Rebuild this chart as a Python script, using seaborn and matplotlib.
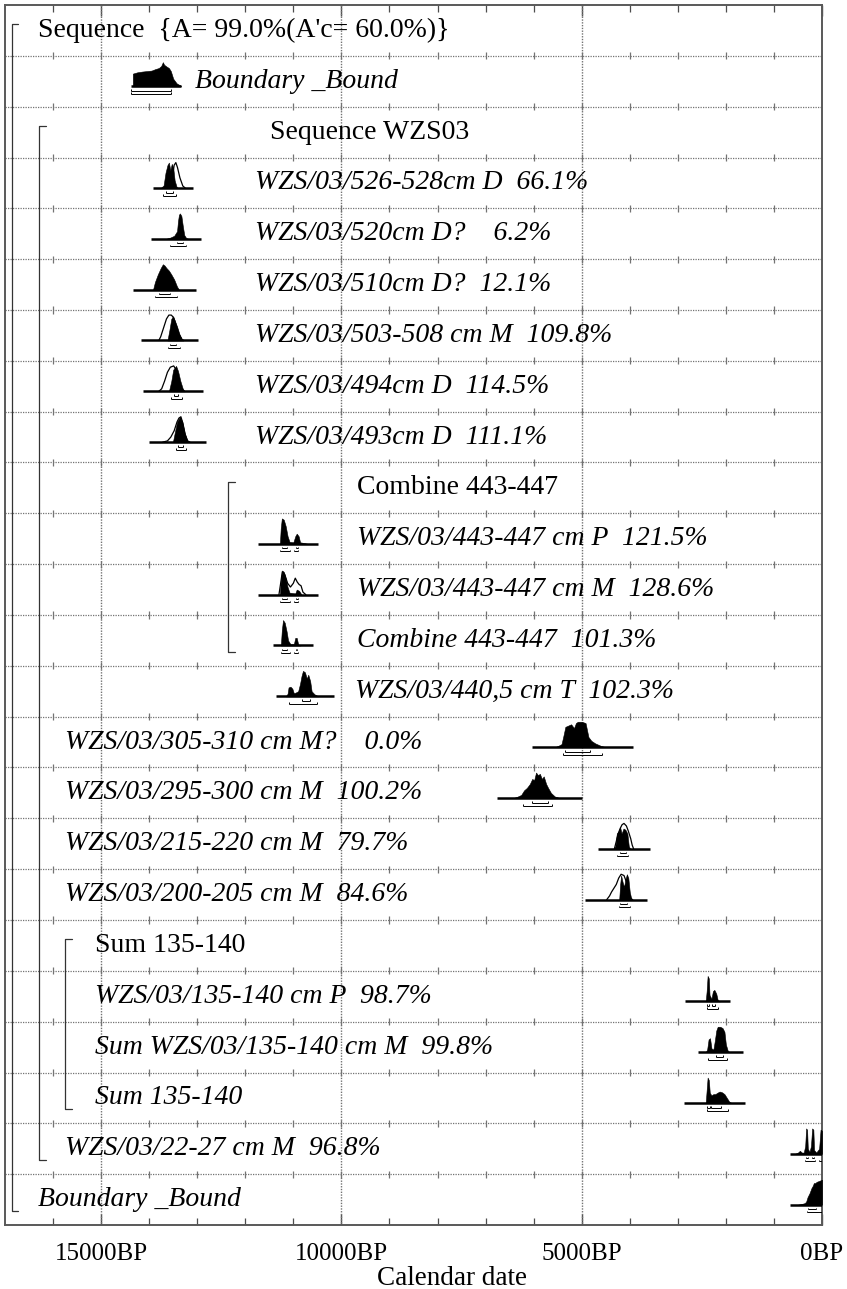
import matplotlib
matplotlib.use("Agg")
import matplotlib.pyplot as plt
import seaborn as sns

sns.set_theme(style="white")
plt.rcParams["font.family"] = ["Liberation Serif", "DejaVu Serif"]

# ---------------------------------------------------------------------------
# Row labels (top to bottom) and calendar axis
# ---------------------------------------------------------------------------
row_labels = [
    "Sequence  {A= 99.0%(A'c= 60.0%)}",
    "Boundary _Bound",
    "Sequence WZS03",
    "WZS/03/526-528cm D  66.1%",
    "WZS/03/520cm D?    6.2%",
    "WZS/03/510cm D?  12.1%",
    "WZS/03/503-508 cm M  109.8%",
    "WZS/03/494cm D  114.5%",
    "WZS/03/493cm D  111.1%",
    "Combine 443-447",
    "WZS/03/443-447 cm P  121.5%",
    "WZS/03/443-447 cm M  128.6%",
    "Combine 443-447  101.3%",
    "WZS/03/440,5 cm T  102.3%",
    "WZS/03/305-310 cm M?    0.0%",
    "WZS/03/295-300 cm M  100.2%",
    "WZS/03/215-220 cm M  79.7%",
    "WZS/03/200-205 cm M  84.6%",
    "Sum 135-140",
    "WZS/03/135-140 cm P  98.7%",
    "Sum WZS/03/135-140 cm M  99.8%",
    "Sum 135-140",
    "WZS/03/22-27 cm M  96.8%",
    "Boundary _Bound",
]
major_ticks = [15000, 10000, 5000, 0]
major_labels = ["15000BP", "10000BP", "5000BP", "0BP"]
minor_ticks = list(range(1000, 17000, 1000))

# ---------------------------------------------------------------------------
# Probability distributions: (calendar age BP, relative probability)
# *_post = modelled (filled), *_prior = unmodelled (outline)
# ---------------------------------------------------------------------------
bound_old_post = [(14340, 0), (14340, 0.5), (14250, 0.55), (14150, 0.58), (14050, 0.6),
                  (13950, 0.62), (13870, 0.68), (13800, 0.72), (13750, 0.8), (13715, 0.95),
                  (13690, 0.85), (13640, 0.78), (13590, 0.72), (13550, 0.6), (13500, 0.3),
                  (13430, 0.12), (13340, 0.02)]
d526_post = [(13760, 0), (13700, 0.1), (13660, 0.6), (13620, 0.9), (13590, 1.0), (13560, 0.7),
             (13530, 0.95), (13500, 0.8), (13470, 0.3), (13430, 0.05), (13400, 0)]
d526_prior = [(13560, 0), (13520, 0.4), (13480, 0.9), (13445, 1.0), (13410, 0.8),
              (13360, 0.4), (13300, 0.08), (13250, 0)]
d520_post = [(13650, 0), (13560, 0.05), (13480, 0.12), (13420, 0.3), (13400, 0.7),
             (13380, 0.95), (13360, 1.0), (13330, 0.9), (13300, 0.5), (13270, 0.15),
             (13230, 0.03), (13180, 0)]
d510_post = [(13920, 0), (13880, 0.3), (13820, 0.6), (13760, 0.85), (13715, 1.0),
             (13680, 0.95), (13640, 0.85), (13590, 0.75), (13540, 0.6), (13480, 0.4),
             (13420, 0.12), (13380, 0)]
m503_prior = [(13800, 0), (13760, 0.15), (13700, 0.5), (13640, 0.85), (13590, 1.0),
              (13540, 1.0), (13490, 0.9), (13440, 0.6), (13380, 0.25), (13320, 0.05), (13280, 0)]
m503_post = [(13620, 0), (13580, 0.4), (13540, 0.85), (13507, 0.95), (13470, 0.8),
             (13420, 0.55), (13370, 0.25), (13320, 0.05), (13290, 0)]
d494_prior = [(13800, 0), (13740, 0.1), (13680, 0.4), (13620, 0.75), (13560, 0.95),
              (13490, 1.0), (13440, 0.85), (13380, 0.45), (13320, 0.1), (13270, 0)]
d494_post = [(13590, 0), (13540, 0.4), (13500, 0.85), (13440, 1.0), (13400, 0.8),
             (13350, 0.4), (13300, 0.1), (13260, 0)]
d493_prior = [(13720, 0), (13620, 0.05), (13550, 0.2), (13480, 0.45), (13420, 0.8),
              (13380, 0.95), (13340, 1.0), (13300, 0.75), (13250, 0.3), (13200, 0.05), (13150, 0)]
d493_post = [(13507, 0), (13470, 0.35), (13420, 0.8), (13360, 1.0), (13310, 0.8),
             (13260, 0.35), (13210, 0.08), (13170, 0)]
p443_post = [(11280, 0), (11263, 0.6), (11240, 1.0), (11200, 0.95), (11160, 0.7),
             (11120, 0.3), (11080, 0.08), (11000, 0.06), (10960, 0.3), (10930, 0.4),
             (10890, 0.3), (10860, 0.06), (10800, 0.04), (10700, 0)]
m443_prior = [(11300, 0), (11260, 0.5), (11230, 0.9), (11180, 0.8), (11120, 0.45),
              (11060, 0.3), (11000, 0.45), (10960, 0.65), (10920, 0.5), (10880, 0.4),
              (10840, 0.35), (10800, 0.1), (10740, 0)]
m443_post = [(11280, 0), (11263, 0.55), (11235, 0.95), (11200, 0.9), (11160, 0.65),
             (11120, 0.3), (11080, 0.08), (10960, 0.05), (10930, 0.2), (10880, 0.15), (10830, 0)]
c443_post = [(11260, 0), (11240, 0.6), (11215, 1.0), (11180, 0.9), (11140, 0.55),
             (11110, 0.2), (11060, 0.05), (10990, 0.05), (10960, 0.3), (10930, 0.3),
             (10900, 0.05), (10850, 0)]
t440_post = [(11160, 0), (11120, 0.1), (11100, 0.35), (11060, 0.38), (11020, 0.3),
             (10990, 0.12), (10950, 0.15), (10900, 0.2), (10860, 0.5), (10830, 0.8),
             (10800, 1.0), (10760, 0.95), (10720, 0.7), (10690, 0.85), (10650, 0.6),
             (10620, 0.2), (10560, 0.08), (10480, 0)]
m305_post = [(5560, 0), (5490, 0.05), (5420, 0.12), (5380, 0.45), (5340, 0.8), (5280, 0.85),
             (5220, 0.9), (5160, 0.75), (5120, 0.95), (5080, 1.0), (5000, 1.0), (4920, 0.95),
             (4860, 0.4), (4800, 0.25), (4720, 0.15), (4600, 0.05), (4500, 0)]
m295_post = [(6420, 0), (6340, 0.05), (6260, 0.12), (6200, 0.3), (6140, 0.4), (6080, 0.55),
             (6030, 0.75), (5990, 0.7), (5950, 1.0), (5910, 0.9), (5870, 0.95), (5830, 0.75),
             (5790, 0.85), (5740, 0.55), (5700, 0.4), (5640, 0.2), (5560, 0.06), (5460, 0)]
m215_prior = [(4320, 0), (4280, 0.3), (4240, 0.6), (4200, 0.8), (4160, 0.95), (4120, 1.0),
              (4070, 0.9), (4030, 0.7), (3980, 0.4), (3950, 0.15), (3920, 0)]
m215_post = [(4340, 0), (4300, 0.1), (4270, 0.6), (4230, 0.7), (4200, 0.85), (4170, 0.6),
             (4130, 0.8), (4090, 0.75), (4050, 0.6), (4020, 0.1), (3990, 0)]
m200_prior = [(4480, 0), (4420, 0.15), (4380, 0.3), (4330, 0.45), (4280, 0.6), (4230, 0.85),
              (4180, 1.0), (4120, 0.95), (4070, 0.7), (4020, 0.3), (3980, 0.05), (3940, 0)]
m200_post = [(4220, 0), (4200, 0.6), (4180, 0.95), (4150, 0.7), (4120, 0.5), (4090, 0.8),
             (4060, 1.0), (4030, 0.85), (4000, 0.3), (3970, 0.05), (3940, 0)]
p135_post = [(2420, 0), (2400, 0.4), (2380, 1.0), (2355, 0.9), (2340, 0.25), (2300, 0.1),
             (2270, 0.4), (2240, 0.45), (2200, 0.3), (2170, 0.05), (2120, 0)]
m135_post = [(2420, 0), (2390, 0.1), (2360, 0.5), (2330, 0.55), (2300, 0.15), (2260, 0.1),
             (2230, 0.45), (2200, 0.85), (2170, 1.0), (2120, 1.0), (2070, 0.95), (2030, 0.8),
             (2000, 0.3), (1960, 0.05), (1920, 0)]
s135_post = [(2420, 0), (2400, 0.5), (2380, 1.0), (2355, 0.9), (2335, 0.4), (2300, 0.3),
             (2260, 0.35), (2220, 0.35), (2180, 0.4), (2130, 0.45), (2080, 0.42),
             (2030, 0.35), (1980, 0.2), (1930, 0.05), (1880, 0)]
m22_post = [(560, 0), (500, 0.05), (460, 0.12), (420, 0.05), (380, 0.05), (350, 0.3),
            (330, 1.0), (310, 0.95), (295, 0.2), (260, 0.08), (230, 0.3), (205, 1.0),
            (180, 0.95), (165, 0.15), (120, 0.05), (60, 0.2), (30, 0.95), (0, 0.9)]
bound_young_post = [(500, 0), (420, 0.03), (360, 0.06), (330, 0.12), (300, 0.3), (260, 0.45),
                    (220, 0.65), (190, 0.75), (170, 0.85), (140, 0.85), (110, 0.9),
                    (80, 0.92), (40, 0.95), (0, 0.98)]

# Plotted span of each distribution (old, young) and highest-density ranges
spans = {1: (14380, 13340), 3: (13920, 13090), 4: (13964, 12925), 5: (14340, 13029),
         6: (14172, 12988), 7: (14130, 12884), 8: (14006, 12821), 10: (11741, 10494),
         11: (11741, 10494), 12: (11429, 10598), 13: (11367, 10161), 14: (6026, 3927),
         15: (6754, 4987), 16: (4655, 3574), 17: (4925, 3637), 19: (2847, 1912),
         20: (2577, 1642), 21: (2868, 1600), 22: (665, 0), 23: (665, 0)}
ranges68 = {1: [(14380, 13550)], 3: [(13650, 13500)], 4: [(13430, 13300)],
            5: [(13790, 13560)], 6: [(13560, 13440)], 7: [(13490, 13390)],
            8: [(13400, 13300)], 10: [(11240, 11130), (10950, 10900)],
            11: [(11240, 11140), (10940, 10910)], 12: [(11230, 11140), (10950, 10920)],
            13: [(10830, 10650)], 14: [(5340, 4820)], 15: [(6030, 5710)],
            16: [(4200, 4080)], 17: [(4200, 4050)], 19: [(2390, 2350), (2280, 2230)],
            20: [(2200, 2050)], 21: [(2390, 2340), (2300, 2100)],
            22: [(340, 300), (215, 170)], 23: [(300, 120)]}
ranges95 = {1: [(14380, 13550)], 3: [(13720, 13440)], 4: [(13560, 13230)],
            5: [(13880, 13430)], 6: [(13600, 13350)], 7: [(13540, 13320)],
            8: [(13450, 13240)], 10: [(11270, 11060), (10980, 10900)],
            11: [(11270, 11080), (10980, 10910)], 12: [(11260, 11080), (10980, 10910)],
            13: [(11100, 10500)], 14: [(5380, 4570)], 15: [(6230, 5610)],
            16: [(4260, 4030)], 17: [(4230, 4000)], 19: [(2390, 2160)],
            20: [(2380, 1980)], 21: [(2400, 1950)], 22: [(360, 150), (60, 0)],
            23: [(310, 0)]}

posteriors = {1: bound_old_post, 3: d526_post, 4: d520_post, 5: d510_post, 6: m503_post,
              7: d494_post, 8: d493_post, 10: p443_post, 11: m443_post, 12: c443_post,
              13: t440_post, 14: m305_post, 15: m295_post, 16: m215_post, 17: m200_post,
              19: p135_post, 20: m135_post, 21: s135_post, 22: m22_post, 23: bound_young_post}
priors = {3: d526_prior, 6: m503_prior, 7: d494_prior, 8: d493_prior, 11: m443_prior,
          16: m215_prior, 17: m200_prior}

# ---------------------------------------------------------------------------
# Layout of labels and grouping brackets
# ---------------------------------------------------------------------------
label_x = [0.0404, 0.2326, 0.3244] + [0.306] * 6 + [0.4308] * 4 + [0.4284] \
    + [0.0734] * 4 + [0.110] * 4 + [0.0734, 0.0404]
group_rows = {0, 2, 9, 18}
brackets = [(0.0085, 0, 23), (0.0416, 2, 22), (0.273, 9, 12), (0.0734, 18, 21)]

XMAX, XMIN = 17000, 0
N = len(row_labels)
BASE = 0.6       # baseline position inside a row
H = 0.5          # height of a full-probability peak (in rows)
GRID = "0.45"

fig = plt.figure(figsize=(8.47, 12.89), dpi=100)
ax = fig.add_axes([5 / 847, 64 / 1289, 817 / 847, 1220 / 1289])
ax.set_xlim(XMAX, XMIN)
ax.set_ylim(N, 0)

# row separators with small year ticks, and major vertical grid
ax.hlines(range(1, N), XMAX, XMIN, colors=GRID, linestyles=(0, (1, 1)), lw=0.9, zorder=1)
for yb in range(1, N):
    ax.vlines(minor_ticks, yb - 0.07, yb + 0.07, colors=GRID, lw=0.9, zorder=1)
ax.vlines(major_ticks[:-1], 0, N, colors=GRID, linestyles=(0, (1, 1)), lw=1.0, zorder=1)

# distributions
for r, post in posteriors.items():
    base = r + BASE
    if r in priors:
        pr = priors[r]
        sns.lineplot(x=[p[0] for p in pr], y=[base - H * p[1] for p in pr], sort=False,
                     estimator=None, color="black", lw=0.9, ax=ax, legend=False, zorder=3)
    ax.fill_between([p[0] for p in post], [base - H * p[1] for p in post], base,
                    color="black", lw=0.4, zorder=4)
    s0, s1 = spans[r]
    ax.hlines(base, s0, s1, colors="black", lw=1.8, zorder=5)
    for off, rng in ((0.09, ranges68[r]), (0.15, ranges95[r])):
        for a, b in rng:
            ax.hlines(base + off, a, b, colors="black", lw=0.7, zorder=5)
            ax.vlines([a, b], base + off - 0.03, base + off, colors="black", lw=0.7, zorder=5)

# labels
ytr = ax.get_yaxis_transform()
for r, (lab, lx) in enumerate(zip(row_labels, label_x)):
    ax.text(lx, r + 0.5, lab, transform=ytr, ha="left", va="center", fontsize=20,
            style="normal" if r in group_rows else "italic", color="black", zorder=6)

# grouping brackets
for bx, r0, r1 in brackets:
    y0, y1 = r0 + 0.38, r1 + 0.72
    ax.plot([bx + 0.008, bx, bx, bx + 0.008], [y0, y0, y1, y1], transform=ytr,
            color="0.2", lw=0.9, zorder=6)

# axis
ax.set_xticks(major_ticks)
ax.set_xticklabels(major_labels)
ax.set_xticks(minor_ticks, minor=True)
ax.set_yticks([])
ax.tick_params(axis="x", which="both", direction="in", top=True, bottom=True,
               colors="0.3", labelcolor="black", labelsize=18, pad=13)
ax.tick_params(axis="x", which="major", length=8, width=1.0)
ax.tick_params(axis="x", which="minor", length=5, width=0.9)
for sp in ax.spines.values():
    sp.set_visible(True)
    sp.set_color("0.35")
    sp.set_linewidth(1.4)
fig.text(452 / 847, 1 - 1285 / 1289, "Calendar date", ha="center", va="baseline",
         fontsize=19.5, color="black")

fig.savefig("out.png", dpi=100, facecolor="white")
